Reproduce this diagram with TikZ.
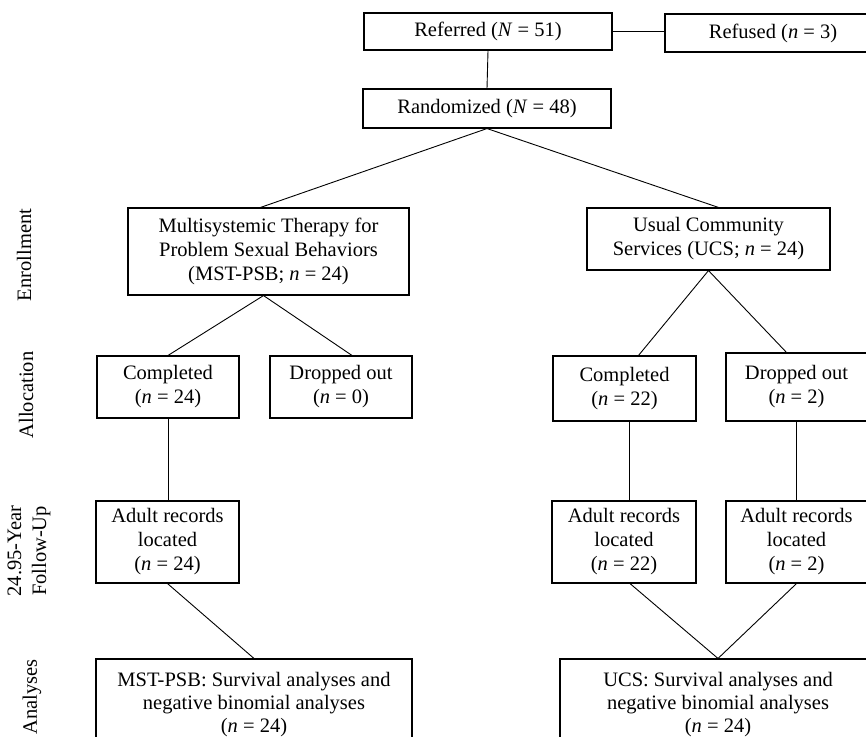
\documentclass[tikz,border=0pt]{standalone}
\usepackage{fontspec}
\setmainfont{Liberation Serif}
\begin{document}
\begin{tikzpicture}[x=1pt,y=-1pt,
  box/.style={draw, line width=1.1pt, align=center, inner sep=0pt,
    font=\fontsize{20.5}{24}\selectfont},
  conn/.style={line width=0.9pt},
  lbl/.style={rotate=90, align=center, inner sep=0pt,
    font=\fontsize{20.5}{25}\selectfont}]
\clip (0,0) rectangle (866,736);
\fill[white] (0,0) rectangle (866,736);

\node[box, minimum width=248, minimum height=37] (ref) at (488,31.5) {Referred (\textit{N} = 51)};
\node[box, minimum width=216, minimum height=38] (refu) at (773,33) {Refused (\textit{n} = 3)};
\node[box, minimum width=248, minimum height=39] (rand) at (487,108.5) {Randomized (\textit{N} = 48)};
\node[box, minimum width=281, minimum height=87] (mst) at (268.5,251.5) {Multisystemic Therapy for\\Problem Sexual Behaviors\\(MST-PSB; \textit{n} = 24)};
\node[box, minimum width=243, minimum height=62] (ucs) at (708.5,239) {Usual Community\\Services (UCS; \textit{n} = 24)};
\node[box, minimum width=142, minimum height=62] (cA) at (168,387) {Completed\\(\textit{n} = 24)};
\node[box, minimum width=142, minimum height=62] (dA) at (341,387) {Dropped out\\(\textit{n} = 0)};
\node[box, minimum width=143, minimum height=65] (cB) at (624.5,388.5) {Completed\\(\textit{n} = 22)};
\node[box, minimum width=141, minimum height=68] (dB) at (796.5,387) {Dropped out\\(\textit{n} = 2)};
\node[box, minimum width=143, minimum height=82] (aA) at (167.5,542) {Adult records\\located\\(\textit{n} = 24)};
\node[box, minimum width=144, minimum height=82] (aB) at (624,542) {Adult records\\located\\(\textit{n} = 22)};
\node[box, minimum width=141, minimum height=82] (aC) at (796.5,542) {Adult records\\located\\(\textit{n} = 2)};
\node[box, minimum width=316, minimum height=91, font=\fontsize{20.5}{23.5}\selectfont] (anA) at (254,704.5) {MST-PSB: Survival analyses and\\negative binomial analyses\\[-1pt](\textit{n} = 24)};
\node[box, minimum width=316, minimum height=91, font=\fontsize{20.5}{23.5}\selectfont] (anB) at (718,704.5) {UCS: Survival analyses and\\negative binomial analyses\\[-1pt](\textit{n} = 24)};

\node[lbl] (l1) at (24,255) {Enrollment};
\node[lbl] (l2) at (26,395) {Allocation};
\node[lbl] (l3) at (29,551) {24.95-Year\\Follow-Up};
\node[lbl] (l4) at (32,697) {Analyses};

\draw[conn] (ref.east) -- (ref.east -| refu.west);
\draw[conn] (ref.south) -- (rand.north);
\draw[conn] ([xshift=-8pt]mst.north) -- (rand.south) -- ([xshift=10pt]ucs.north);
\draw[conn] (cA.north) -- ([xshift=-5pt]mst.south) -- ([xshift=11pt]dA.north);
\draw[conn] ([xshift=14pt]cB.north) -- (ucs.south) -- ([xshift=-10pt]dB.north);
\draw[conn] (cA.south) -- (cA.south |- aA.north);
\draw[conn] ([xshift=5pt]cB.south) coordinate (cbs) -- (cbs |- aB.north);
\draw[conn] (dB.south) -- (dB.south |- aC.north);
\draw[conn] (aA.south) -- (anA.north);
\draw[conn] ([xshift=6pt]aB.south) -- (anB.north) -- (aC.south);
\end{tikzpicture}
\end{document}
